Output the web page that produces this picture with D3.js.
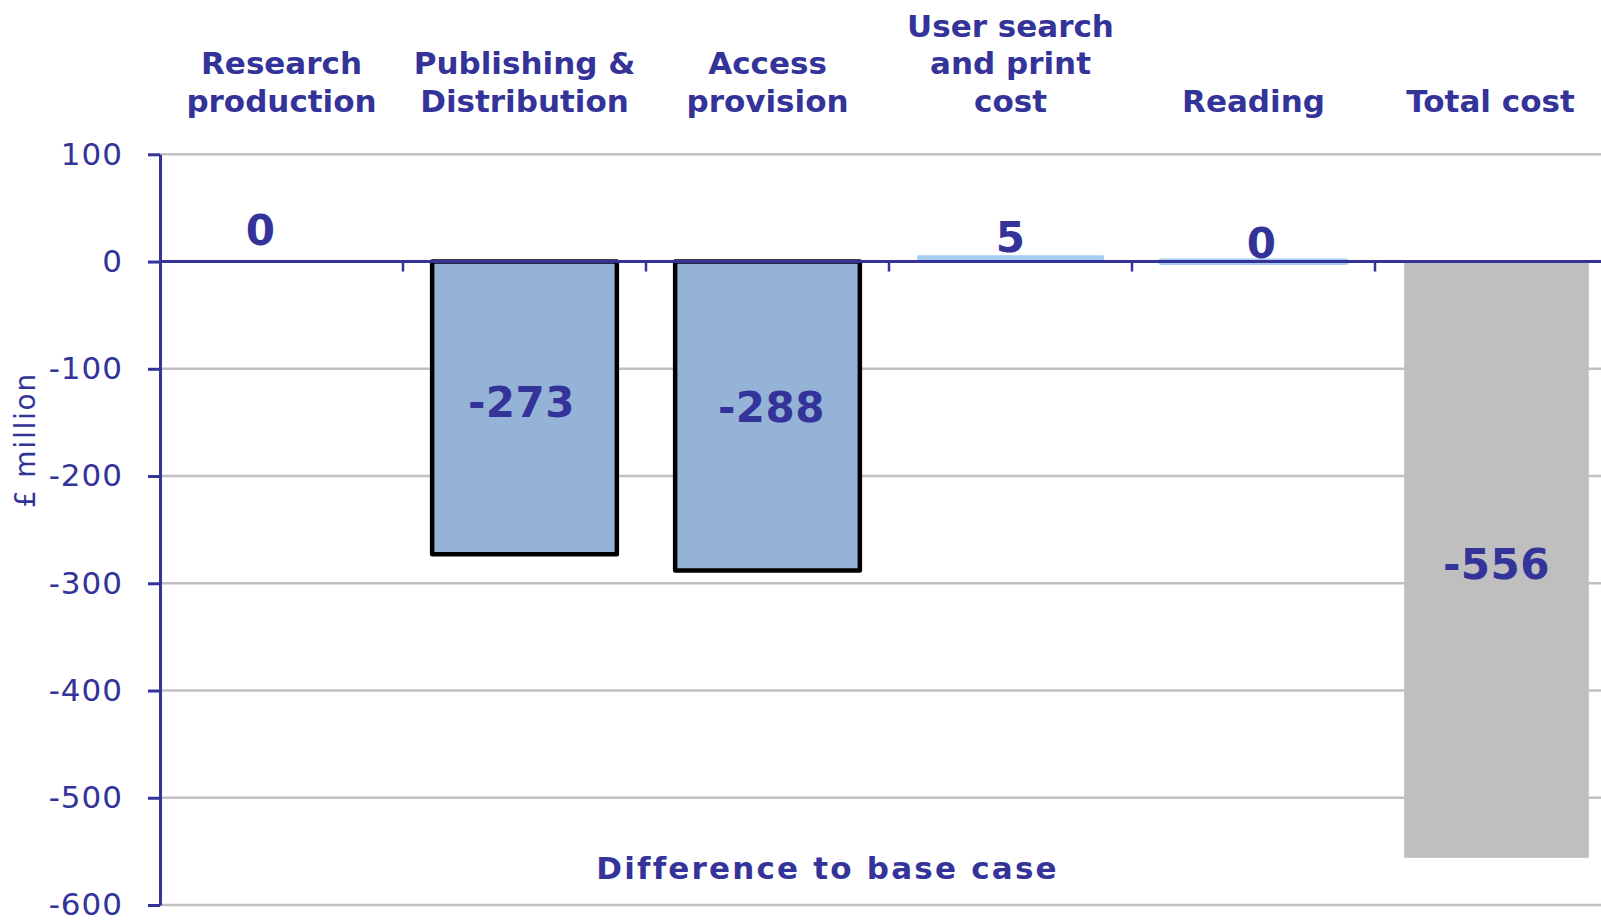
<!DOCTYPE html>
<html><head><meta charset="utf-8">
<script src="https://cdn.jsdelivr.net/npm/d3@7"></script>
<style>body{margin:0;background:#fff} svg{display:block}</style>
</head><body><svg id="c" width="1601" height="922"></svg>
<script>
// ---- data ----
const categories = ["Research production","Publishing & Distribution","Access provision","User search and print cost","Reading","Total cost"];
const categoryLines = [["Research","production"],["Publishing &","Distribution"],["Access","provision"],["User search","and print","cost"],["Reading"],["Total cost"]];
const values = [0, -273, -288, 5, -0.45, -556];
const yTicks = [100, 0, -100, -200, -300, -400, -500, -600];
const yTitle = "£ million";
const xTitle = "Difference to base case";

// ---- styles / layout tweaks ----
const TXT = "#333399";
const FONT = "'DejaVu Sans', Verdana, sans-serif";
const fills   = ["#95B3D7","#95B3D7","#95B3D7","#A6CCF2","#A6CCF2","#BFBFBF"];
const strokes = ["#000000","#000000","#000000","#A6CCF2","#A6CCF2","none"];
const strokeW = [4.5,4.5,4.5,2,6,0];
const labelNudgeX = [-21, -3, 4, 0, 8, 0];
const labelNudgeY = [-13, -6, -9, 0, 0, 4];
const catNudgeX = [0, 0, 0, 0, 0, -6];

const W = 1601, H = 922;
const svg = d3.select("#c");
const x = d3.scaleBand().domain(categories).range([160, 1618]).paddingInner(0.24).paddingOuter(0.12);
const y = d3.scaleLinear().domain([-600, 100]).range([905, 154.3]);
const data = categories.map((c, i) => ({c, v: values[i], i}));

// gridlines
svg.append("g").selectAll("line").data(yTicks.filter(t => t !== 0)).join("line")
  .attr("x1", x.range()[0]).attr("x2", W)
  .attr("y1", d => y(d)).attr("y2", d => y(d))
  .attr("stroke", "#C0C0C0").attr("stroke-width", 2.5);

// bars
svg.append("g").selectAll("rect").data(data.filter(d => d.v !== 0)).join("rect")
  .attr("x", d => x(d.c)).attr("width", x.bandwidth())
  .attr("y", d => y(Math.max(0, d.v))).attr("height", d => Math.abs(y(d.v) - y(0)))
  .attr("fill", d => fills[d.i]).attr("stroke", d => strokes[d.i])
  .attr("stroke-width", d => strokeW[d.i]).attr("stroke-linejoin", "round");

// y axis
const yAxis = svg.append("g").attr("transform", `translate(${x.range()[0]},0)`)
  .call(d3.axisLeft(y).tickValues(yTicks).tickSize(12).tickSizeOuter(0).tickPadding(25).tickFormat(d => String(d)));
yAxis.select(".domain").attr("stroke", TXT).attr("stroke-width", 3);
yAxis.selectAll(".tick line").attr("stroke", TXT).attr("stroke-width", 3);
yAxis.selectAll(".tick text").attr("fill", TXT).style("font-family", FONT).style("font-size", "31px")
  .style("letter-spacing", "1px");

// zero line and category ticks
svg.append("line").attr("x1", x.range()[0]).attr("x2", W).attr("y1", y(0)).attr("y2", y(0))
  .attr("stroke", TXT).attr("stroke-width", 3);
const step = x.step();
svg.append("g").selectAll("line").data(categories.slice(1)).join("line")
  .attr("x1", d => x(d) - step * x.paddingInner() / 2).attr("x2", d => x(d) - step * x.paddingInner() / 2)
  .attr("y1", y(0)).attr("y2", y(0) + 10)
  .attr("stroke", TXT).attr("stroke-width", 2.5);

// category labels (top)
const catG = svg.append("g").attr("fill", TXT).style("font-family", FONT)
  .style("font-size", "31px").style("font-weight", "bold").attr("text-anchor", "middle");
categoryLines.forEach((lines, i) => {
  const cx = x(categories[i]) + x.bandwidth() / 2 + catNudgeX[i];
  const t = catG.append("text").attr("x", cx);
  lines.forEach((ln, j) => {
    t.append("tspan").attr("x", cx).attr("y", 111.5 - (lines.length - 1 - j) * 37.5).text(ln);
  });
});

// value labels
const fmt = v => String(Math.round(v) + 0);
svg.append("g").selectAll("text").data(data).join("text")
  .attr("text-anchor", "middle").attr("fill", TXT)
  .style("font-family", FONT).style("font-size", "42px").style("font-weight", "bold")
  .style("letter-spacing", "0.5px")
  .attr("x", d => x(d.c) + x.bandwidth() / 2 + labelNudgeX[d.i])
  .attr("y", d => {
    const h = Math.abs(y(d.v) - y(0));
    if (h > 60) return (y(d.v) + y(0)) / 2 + 15 + labelNudgeY[d.i];
    return y(Math.max(0, d.v)) - 4 + labelNudgeY[d.i];
  })
  .text(d => fmt(d.v));

// axis titles
svg.append("text").attr("x", 827.5).attr("y", 879.3).attr("text-anchor", "middle")
  .attr("fill", TXT).style("font-family", FONT).style("font-size", "31px").style("font-weight", "bold")
  .style("letter-spacing", "2.2px").text(xTitle);
svg.append("text").attr("transform", "translate(35,440) rotate(-90)").attr("text-anchor", "middle")
  .attr("fill", TXT).style("font-family", FONT).style("font-size", "28px")
  .style("letter-spacing", "1.8px").text(yTitle);
</script></body></html>
